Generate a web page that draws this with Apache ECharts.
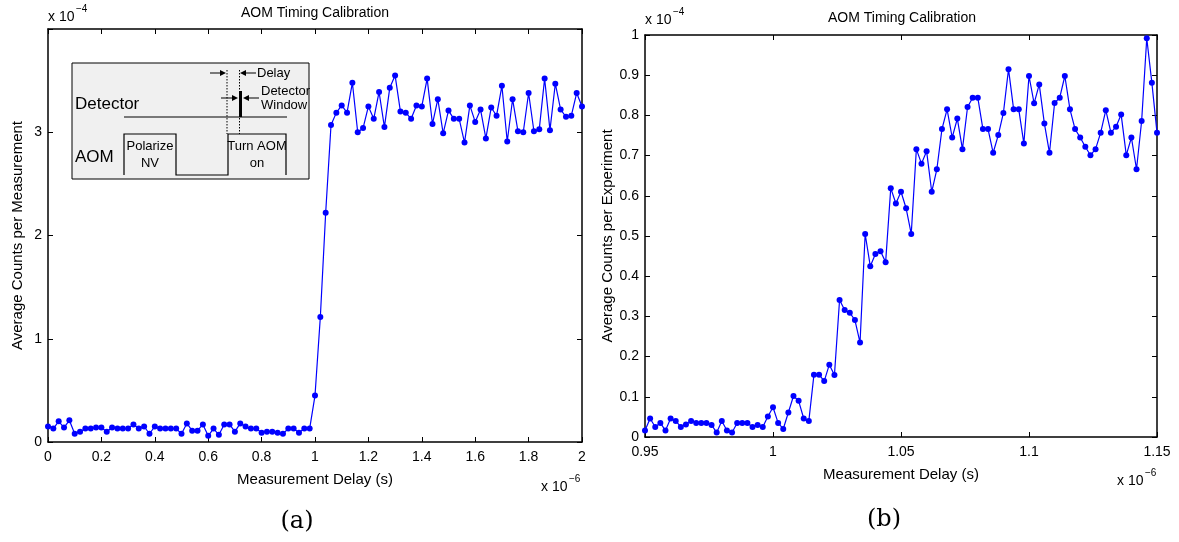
<!DOCTYPE html>
<html>
<head>
<meta charset="utf-8">
<script src="https://cdn.jsdelivr.net/npm/echarts@6/dist/echarts.min.js"></script>
<style>
html,body{margin:0;padding:0;background:#fff;}
#chart{width:1179px;height:542px;}
</style>
</head>
<body>
<div id="chart"></div>
<script>
// ---- data (x in units of 1e-6 s, y in units of 1e-4) ----
const leftXStart = 0, leftXStep = 0.02;
const leftCounts = [
  0.15,0.13,0.20,0.14,0.21,0.08,0.10,0.13,0.13,0.14,
  0.14,0.10,0.14,0.13,0.13,0.13,0.17,0.13,0.15,0.08,
  0.15,0.13,0.13,0.13,0.13,0.08,0.18,0.11,0.11,0.17,
  0.06,0.13,0.07,0.17,0.17,0.10,0.18,0.15,0.13,0.13,
  0.09,0.10,0.10,0.09,0.08,0.13,0.13,0.09,0.13,0.13,
  0.45,1.21,2.22,
  3.07,3.19,3.26,3.19,3.48,3.00,3.04,3.25,3.13,3.39,
  3.05,3.43,3.55,3.20,3.19,3.13,3.26,3.25,3.52,3.08,
  3.32,2.99,3.21,3.13,3.13,2.90,3.26,3.10,3.22,2.94,
  3.24,3.16,3.45,2.91,3.32,3.01,3.00,3.38,3.01,3.03,
  3.52,3.02,3.47,3.22,3.15,3.16,3.38,3.25
];
const rightXStart = 0.95, rightXStep = 0.002;
const rightCounts = [
  0.016,0.046,0.025,0.035,0.016,0.046,0.040,0.025,0.031,0.040,
  0.035,0.035,0.035,0.030,0.011,0.040,0.016,0.011,0.035,0.035,
  0.035,0.025,0.030,0.025,0.051,0.074,0.035,0.020,0.061,0.102,
  0.090,0.046,0.040,0.155,0.155,0.139,0.180,0.154,0.341,0.316,
  0.309,0.291,0.235,0.505,0.425,0.455,0.462,0.435,0.619,0.581,
  0.610,0.569,0.505,0.716,0.680,0.711,0.610,0.666,0.766,0.815,
  0.745,0.792,0.716,0.821,0.844,0.844,0.766,0.766,0.707,0.751,
  0.806,0.915,0.815,0.815,0.730,0.898,0.830,0.877,0.780,0.707,
  0.831,0.844,0.898,0.815,0.766,0.745,0.722,0.701,0.716,0.757,
  0.813,0.757,0.772,0.802,0.701,0.745,0.666,0.786,0.992,0.881,
  0.757
];
const titleText = 'AOM Timing Calibration';
const xName = 'Measurement Delay (s)';
const yNameLeft = 'Average Counts per Measurement';
const yNameRight = 'Average Counts per Experiment';

const leftData = leftCounts.map((v,i)=>[+(leftXStart + i*leftXStep).toFixed(4), v]);
const rightData = rightCounts.map((v,i)=>[+(rightXStart + i*rightXStep).toFixed(4), v]);

const FONT = 'Liberation Sans';
const lbl = {color:'#000', fontFamily:FONT, fontSize:14};

function xAx(grid, min, max, interval, main){
  return {
    type:'value', gridIndex:grid, min:min, max:max, interval:interval,
    position: main ? 'bottom' : 'top',
    axisLine:{show:true, onZero:false, lineStyle:{color:'#000', width:1.5}},
    axisTick:{show:true, inside:true, length:5, lineStyle:{color:'#000'}},
    axisLabel: main ? Object.assign({margin:8}, lbl) : {show:false},
    splitLine:{show:false},
    name: main ? xName : '', nameLocation:'middle', nameGap:30,
    nameTextStyle:{color:'#000', fontFamily:FONT, fontSize:15}
  };
}
function yAx(grid, min, max, interval, main, name, fmt){
  return {
    type:'value', gridIndex:grid, min:min, max:max, interval:interval,
    position: main ? 'left' : 'right',
    axisLine:{show:true, onZero:false, lineStyle:{color:'#000', width:1.5}},
    axisTick:{show:true, inside:true, length:5, lineStyle:{color:'#000'}},
    axisLabel: main ? Object.assign({margin:6, formatter:fmt}, lbl) : {show:false},
    splitLine:{show:false},
    name: main ? name : '', nameLocation:'middle', nameGap: 23,
    nameTextStyle:{color:'#000', fontFamily:FONT, fontSize:15}
  };
}

const chart = echarts.init(document.getElementById('chart'), null, {renderer:'canvas'});

function arrow(x1,y,x2){
  const dir = x2 > x1 ? 1 : -1;
  return [
    {type:'line', shape:{x1:x1,y1:y,x2:x2-dir*4,y2:y}, style:{stroke:'#000', lineWidth:1}},
    {type:'polygon', shape:{points:[[x2,y],[x2-dir*6,y-3],[x2-dir*6,y+3]]}, style:{fill:'#000'}}
  ];
}
function txt(x,y,t,size,align,font,extra){
  return {type:'text', x:x, y:y, style:Object.assign({text:t, fill:'#000', fontFamily:font||FONT, fontSize:size, align:align||'left', verticalAlign:'middle'}, extra||{})};
}

const inset = [].concat(
  [{type:'rect', shape:{x:72,y:63,width:237,height:116}, style:{fill:'#f0f0f0', stroke:'#000', lineWidth:1}}],
  [txt(75,104,'Detector',17), txt(75,157,'AOM',17)],
  [{type:'polyline', shape:{points:[[124,117],[287,117]]}, style:{stroke:'#000', lineWidth:1.2, fill:null}}],
  [{type:'rect', shape:{x:239,y:91,width:3,height:26}, style:{fill:'#000'}}],
  [{type:'polyline', shape:{points:[[124,175],[124,134],[176,134],[176,175],[228,175],[228,134],[286,134],[286,175]]}, style:{stroke:'#000', lineWidth:1.2, fill:null}}],
  [{type:'line', shape:{x1:227,y1:70,x2:227,y2:134}, style:{stroke:'#000', lineWidth:1, lineDash:[1.5,1.5]}}],
  [{type:'line', shape:{x1:239.5,y1:70,x2:239.5,y2:134}, style:{stroke:'#000', lineWidth:1, lineDash:[1.5,1.5]}}],
  arrow(210,73,226), arrow(256,73,240),
  [txt(257,73,'Delay',13)],
  arrow(221,98,238), arrow(259,98,243),
  [txt(261,91,'Detector',13), txt(261,105,'Window',13)],
  [txt(150,146,'Polarize',13,'center'), txt(150,163,'NV',13,'center')],
  [txt(257,146,'Turn AOM',13,'center'), txt(257,163,'on',13,'center')]
);

const deco = [
  txt(315,13,titleText,14,'center'),
  txt(902,18,titleText,14,'center'),
  txt(48,17,'x 10',14), txt(76,9,'\u22124',10),
  txt(645,20,'x 10',14), txt(673,12,'\u22124',10),
  txt(541,487,'x 10',14), txt(569,479,'\u22126',10),
  txt(1117,481,'x 10',14), txt(1145,473,'\u22126',10),
  txt(297,522,'(a)',24,'center','DejaVu Serif'),
  txt(884,520,'(b)',24,'center','DejaVu Serif')
];

const option = {
  animation:false,
  backgroundColor:'#fff',
  grid:[
    {left:48, right:597, top:29, bottom:100, containLabel:false},
    {left:645, right:22, top:35, bottom:105, containLabel:false}
  ],
  xAxis:[
    xAx(0,0,2,0.2,true), xAx(1,0.95,1.15,0.05,true),
    xAx(0,0,2,0.2,false), xAx(1,0.95,1.15,0.05,false)
  ],
  yAxis:[
    yAx(0,0,4,1,true,yNameLeft,v=> (Math.abs(v-Math.round(v))<1e-9 && v<4) ? String(v) : ''),
    yAx(1,0,1,0.1,true,yNameRight,null),
    yAx(0,0,4,1,false), yAx(1,0,1,0.1,false)
  ],
  series:[
    {type:'line', xAxisIndex:0, yAxisIndex:0, data:leftData, symbol:'circle', symbolSize:6,
     lineStyle:{color:'#0000ff', width:1.2}, itemStyle:{color:'#0000ff'}},
    {type:'line', xAxisIndex:1, yAxisIndex:1, data:rightData, symbol:'circle', symbolSize:6,
     lineStyle:{color:'#0000ff', width:1.2}, itemStyle:{color:'#0000ff'}}
  ],
  graphic: inset.concat(deco)
};
chart.setOption(option);
</script>
</body>
</html>
